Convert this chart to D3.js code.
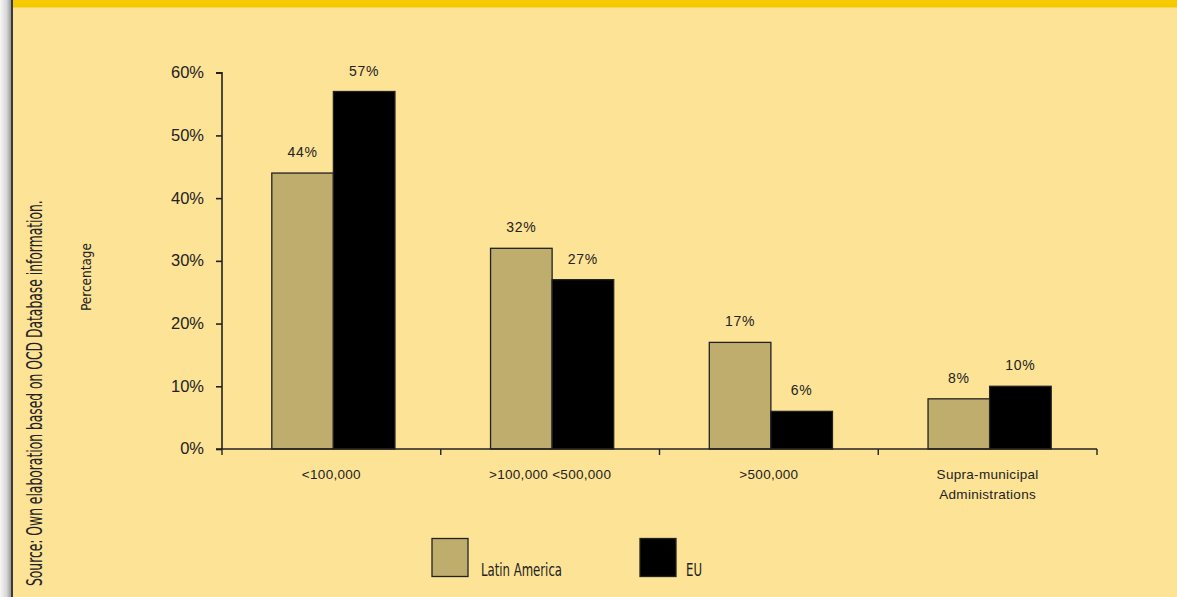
<!DOCTYPE html>
<html>
<head>
<meta charset="utf-8">
<script src="https://cdn.jsdelivr.net/npm/d3@7"></script>
<style>
  html, body { margin: 0; padding: 0; background: #FDE395; }
  svg { display: block; }
</style>
</head>
<body>
<svg id="chart" width="1177" height="597"></svg>
<script>
// Share of cases by administrative level
const categories = [["<100,000"], [">100,000 <500,000"], [">500,000"], ["Supra-municipal", "Administrations"]];
const series = ["Latin America", "EU"];
const latinAmerica = [44, 32, 17, 8];
const eu = [57, 27, 6, 10];
const yTicks = [0, 10, 20, 30, 40, 50, 60];
const sourceNote = "Source: Own elaboration based on OCD Database information.";
const yTitle = "Percentage";

const W = 1177, H = 597;
const colors = { "Latin America": "#BFAD6E", "EU": "#000000" };
const ink = "#222";
const bg = "#FDE395";

const svg = d3.select("#chart");

// page background, left shadow edge and top band
const defs = svg.append("defs");
const grad = defs.append("linearGradient").attr("id", "edge").attr("x1", 0).attr("x2", 1);
grad.append("stop").attr("offset", "0%").attr("stop-color", "#f7f7f7");
grad.append("stop").attr("offset", "60%").attr("stop-color", "#d6d6d6");
grad.append("stop").attr("offset", "100%").attr("stop-color", "#9b9b9b");

svg.append("rect").attr("width", W).attr("height", H).attr("fill", bg);
svg.append("rect").attr("x", 0).attr("y", 0).attr("width", 11).attr("height", H).attr("fill", "url(#edge)");
svg.append("rect").attr("x", 11).attr("y", 0).attr("width", 2).attr("height", H).attr("fill", "#3a3a3a");
svg.append("rect").attr("x", 13).attr("y", 0).attr("width", W - 13).attr("height", 7.5).attr("fill", "#F6CA00");

// scales
const plot = { left: 222, right: 1097, top: 72.7, bottom: 449 };
const x = d3.scaleBand().domain(d3.range(categories.length)).range([plot.left, plot.right]).padding(0);
const xs = d3.scaleBand().domain(series).range([3, x.step() + 1]).paddingInner(0).paddingOuter(0.76);
const y = d3.scaleLinear().domain([0, 60]).range([plot.bottom, plot.top]);

const font = "'Liberation Sans', Arial, Helvetica, sans-serif";
const narrow = "'Liberation Sans Narrow', 'DejaVu Sans Condensed', 'Liberation Sans', sans-serif";

// bars
const rows = categories.map((c, i) => ({ i, values: [latinAmerica[i], eu[i]] }));
const groups = svg.append("g").selectAll("g").data(rows).join("g")
  .attr("transform", d => `translate(${x(d.i)},0)`);

groups.selectAll("rect").data(d => series.map((s, k) => ({ s, v: d.values[k] })))
  .join("rect")
  .attr("x", d => xs(d.s))
  .attr("y", d => y(d.v))
  .attr("width", xs.bandwidth())
  .attr("height", d => y(0) - y(d.v))
  .attr("fill", d => colors[d.s])
  .attr("stroke", ink)
  .attr("stroke-width", 1.3);

groups.selectAll("text.val").data(d => series.map((s, k) => ({ s, v: d.values[k] })))
  .join("text")
  .attr("class", "val")
  .attr("x", d => xs(d.s) + xs.bandwidth() / 2)
  .attr("y", d => y(d.v) - 16)
  .attr("text-anchor", "middle")
  .attr("font-family", font)
  .attr("font-size", 14)
  .attr("letter-spacing", 0.8)
  .attr("fill", ink)
  .text(d => d.v + "%");

// y axis
const yAxis = d3.axisLeft(y).tickValues(yTicks).tickFormat(d => d + "%").tickSize(6).tickPadding(12);
const gy = svg.append("g").attr("transform", `translate(${plot.left},0)`).call(yAxis);
gy.select(".domain").attr("stroke", ink).attr("stroke-width", 1.6).attr("d", `M-6,${plot.top}H0V${plot.bottom}`);
gy.selectAll(".tick line").attr("stroke", ink).attr("stroke-width", 1.6);
gy.selectAll(".tick text").attr("font-family", font).attr("font-size", 16.5).attr("fill", ink).attr("dy", "0.3em");

// x axis with ticks on category boundaries
const boundaries = d3.range(categories.length + 1).map(i => plot.left + i * x.step());
const gx = svg.append("g");
gx.append("line").attr("x1", plot.left - 6).attr("x2", plot.right).attr("y1", plot.bottom).attr("y2", plot.bottom)
  .attr("stroke", ink).attr("stroke-width", 1.6);
gx.selectAll("line.tk").data(boundaries).join("line").attr("class", "tk")
  .attr("x1", d => d).attr("x2", d => d).attr("y1", plot.bottom).attr("y2", plot.bottom + 6)
  .attr("stroke", ink).attr("stroke-width", 1.4);

const catLabels = gx.selectAll("text.cat").data(categories).join("text").attr("class", "cat")
  .attr("x", (d, i) => x(i) + x.bandwidth() / 2)
  .attr("y", 479)
  .attr("text-anchor", "middle")
  .attr("font-family", font)
  .attr("font-size", 13.5)
  .attr("letter-spacing", 0.3)
  .attr("fill", ink);
catLabels.selectAll("tspan").data(d => d).join("tspan")
  .attr("x", function() { return this.parentNode.getAttribute("x"); })
  .attr("dy", (d, j) => j === 0 ? 0 : 20)
  .text(d => d);

// axis title
svg.append("text")
  .attr("transform", "translate(90.5,277) rotate(-90)")
  .attr("text-anchor", "middle")
  .attr("font-family", narrow)
  .attr("font-size", 14)
  .attr("textLength", 68).attr("lengthAdjust", "spacingAndGlyphs")
  .attr("fill", ink)
  .text(yTitle);

// source note, running up the left margin; a tall condensed face is
// obtained by stretching a smaller size vertically to the wanted run length
const noteRun = 386, noteSize = 16, noteStretch = 21 / 16;
const note = svg.append("text")
  .attr("text-anchor", "start")
  .attr("font-family", narrow)
  .attr("font-size", noteSize)
  .attr("fill", ink)
  .text(sourceNote);
const noteLen = note.node().getComputedTextLength() || noteRun;
note.attr("transform", `translate(42,586) rotate(-90) scale(${noteRun / noteLen},${noteStretch})`);

// legend
const legendPos = [{ x: 432, tx: 481, tl: 81 }, { x: 640, tx: 686, tl: 16 }];
const lg = svg.append("g").selectAll("g").data(series).join("g");
lg.append("rect")
  .attr("x", (d, i) => legendPos[i].x).attr("y", 538.5)
  .attr("width", 36).attr("height", 38)
  .attr("fill", d => colors[d]).attr("stroke", ink).attr("stroke-width", 1.3);
lg.append("text")
  .attr("x", (d, i) => legendPos[i].tx).attr("y", 576)
  .attr("font-family", narrow).attr("font-size", 18.5)
  .attr("textLength", (d, i) => legendPos[i].tl).attr("lengthAdjust", "spacingAndGlyphs")
  .attr("fill", ink)
  .text(d => d);
</script>
</body>
</html>
